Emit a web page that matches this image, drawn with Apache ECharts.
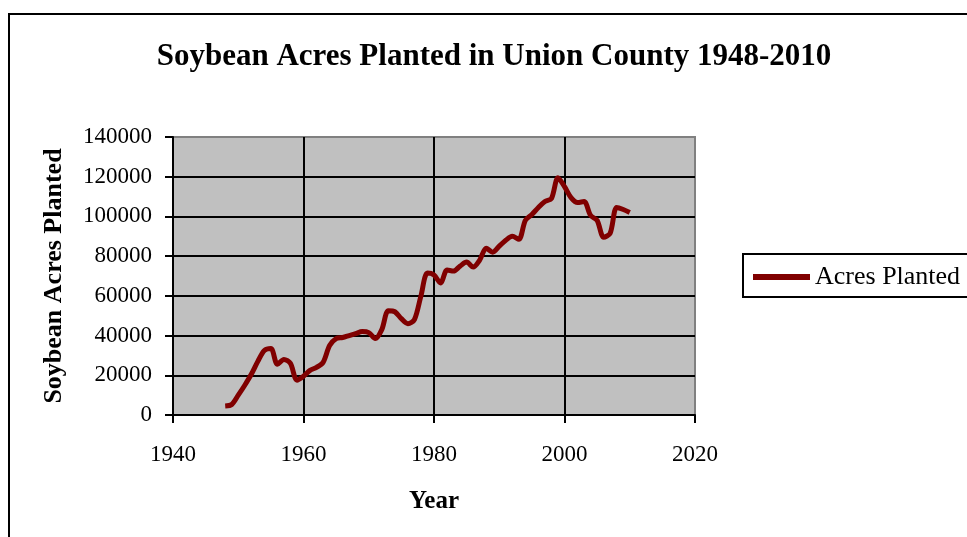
<!DOCTYPE html>
<html><head><meta charset="utf-8">
<script src="https://cdn.jsdelivr.net/npm/echarts@6/dist/echarts.min.js"></script>
<style>html,body{margin:0;padding:0;background:#fff;}#c{width:967px;height:537px;}</style>
</head><body><div id="c"></div>
<script>
const chartTitle = 'Soybean Acres Planted in Union County 1948-2010';
const seriesName = 'Acres Planted';
const xAxisTitle = 'Year';
const yAxisTitle = 'Soybean Acres Planted';
const years = [1948,1949,1950,1951,1952,1953,1954,1955,1956,1957,1958,1959,
  1960,1961,1962,1963,1964,1965,1966,1967,1968,1969,
  1970,1971,1972,1973,1974,1975,1976,1977,1978,1979,
  1980,1981,1982,1983,1984,1985,1986,1987,1988,1989,
  1990,1991,1992,1993,1994,1995,1996,1997,1998,1999,
  2000,2001,2002,2003,2004,2005,2006,2007,2008,2009,2010];
const acresPlanted = [4500,5300,10000,15000,20500,27000,32500,33500,25500,28000,26000,17500,
  19500,22500,24000,26500,35000,38500,39000,40000,41000,42000,
  41500,38500,43000,52500,52000,48500,46000,48000,60000,71500,
  70500,66500,73000,72500,75000,77000,74500,78000,84000,82000,
  85000,88000,90000,88500,98000,101000,104500,107500,109000,119500,
  115000,109500,107000,107500,100500,98000,89500,91500,104500,103500,102000];
const xTickLabels = [1940,1960,1980,2000,2020];
const yTickLabels = [0,20000,40000,60000,80000,100000,120000,140000];

const serif = '"Liberation Serif","Times New Roman",serif';
const chart = echarts.init(document.getElementById('c'), null, {renderer:'canvas'});
chart.setOption({
  animation: false,
  backgroundColor: '#fff',
  title: {
    text: chartTitle, left: 489, top: 36, textAlign: 'center',
    textStyle: {fontFamily: serif, fontWeight: 'bold', fontSize: 31, color: '#000'}
  },
  graphic: [{
    type: 'rect', shape: {x: 9, y: 14, width: 1100, height: 700},
    style: {fill: 'none', stroke: '#000', lineWidth: 2}, z: -1
  }],
  legend: {
    left: 743, top: 254, orient: 'horizontal',
    borderColor: '#000', borderWidth: 2, padding: [10, 10, 7, 10],
    icon: 'rect', itemWidth: 57, itemHeight: 6, itemGap: 8,
    textStyle: {fontFamily: serif, fontSize: 26, color: '#000'},
    data: [seriesName]
  },
  grid: {
    left: 173, top: 137, width: 522, height: 278,
    show: true, backgroundColor: '#C0C0C0', borderColor: '#808080', borderWidth: 2,
    containLabel: false
  },
  xAxis: {
    type: 'value', min: xTickLabels[0], max: xTickLabels[xTickLabels.length-1], interval: 20,
    name: xAxisTitle, nameLocation: 'middle', nameGap: 74,
    nameTextStyle: {fontFamily: serif, fontWeight: 'bold', fontSize: 25, color: '#000'},
    axisLine: {show: true, onZero: false, lineStyle: {color: '#000', width: 2}},
    axisTick: {show: true, length: 8, lineStyle: {color: '#000', width: 2}},
    axisLabel: {margin: 28, fontFamily: serif, fontSize: 23, color: '#000', formatter: v => String(v)},
    splitLine: {show: true, showMinLine: false, showMaxLine: false, lineStyle: {color: '#000', width: 2}}
  },
  yAxis: {
    type: 'value', min: yTickLabels[0], max: yTickLabels[yTickLabels.length-1], interval: 20000,
    name: yAxisTitle, nameLocation: 'middle', nameGap: 106, nameRotate: 90,
    nameTextStyle: {fontFamily: serif, fontWeight: 'bold', fontSize: 26, color: '#000'},
    axisLine: {show: true, onZero: false, lineStyle: {color: '#000', width: 2}},
    axisTick: {show: true, length: 8, lineStyle: {color: '#000', width: 2}},
    axisLabel: {margin: 21, fontFamily: serif, fontSize: 23, color: '#000', formatter: v => String(v)},
    splitLine: {show: true, showMinLine: false, showMaxLine: false, lineStyle: {color: '#000', width: 2}}
  },
  series: [{
    name: seriesName, type: 'line', smooth: 0.3, symbol: 'none',
    lineStyle: {color: '#800000', width: 5, cap: 'butt'},
    itemStyle: {color: '#800000'},
    data: years.map((y, i) => [y, acresPlanted[i]])
  }]
});
</script>
</body></html>
